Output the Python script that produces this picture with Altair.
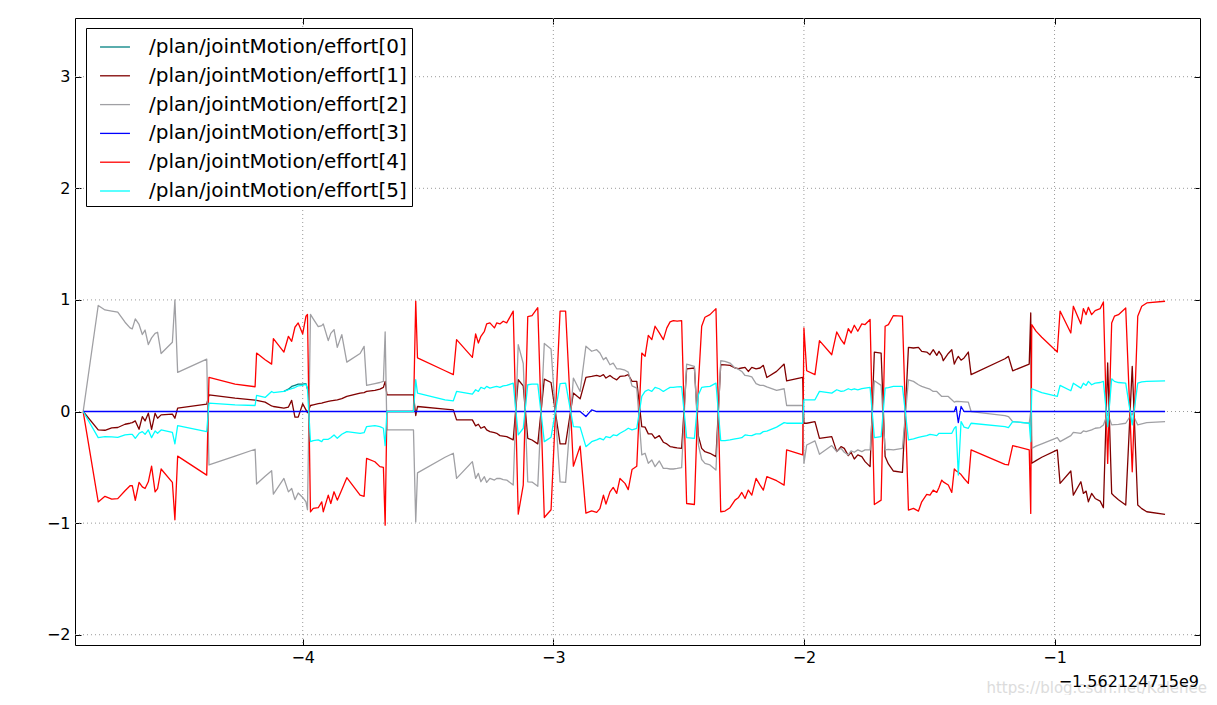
import altair as alt
import pandas as pd

names = [
    "/plan/jointMotion/effort[0]",
    "/plan/jointMotion/effort[1]",
    "/plan/jointMotion/effort[2]",
    "/plan/jointMotion/effort[3]",
    "/plan/jointMotion/effort[4]",
    "/plan/jointMotion/effort[5]",
]
colors = ["#008080", "#800000", "#a0a0a4", "#0000ff", "#ff0000", "#00ffff"]

# shared sample times (seconds, relative to offset -1.562124715e9)
t = [
    -4.876, -4.816, -4.789, -4.762, -4.738, -4.709, -4.689, -4.680, -4.668, -4.653, -4.640,
    -4.629, -4.616, -4.603, -4.589, -4.579, -4.565, -4.520, -4.510, -4.499, -4.383,
    -4.374, -4.270, -4.190, -4.184, -4.150, -4.124, -4.117, -4.075, -4.057, -4.044, -4.031,
    -4.018, -4.000, -3.987, -3.981,
    -3.969, -3.958, -3.938, -3.924, -3.918, -3.898, -3.888, -3.875, -3.862, -3.844, -3.824,
    -3.771, -3.755, -3.745, -3.712, -3.692, -3.678, -3.671,
    -3.664, -3.558, -3.549, -3.542,
    -3.432, -3.399, -3.386, -3.323, -3.310, -3.299, -3.289, -3.275, -3.266, -3.253, -3.235,
    -3.226, -3.213, -3.200, -3.186, -3.160,
    -3.140, -3.120, -3.102, -3.085, -3.062, -3.036, -3.009, -2.973, -2.951, -2.920, -2.893,
    -2.870, -2.847, -2.827, -2.814, -2.800, -2.790, -2.774, -2.761, -2.747, -2.734, -2.714,
    -2.701, -2.686, -2.667,
    -2.647, -2.634, -2.621, -2.607, -2.594, -2.577, -2.561, -2.547, -2.534, -2.521, -2.506, -2.488,
    -2.468, -2.437, -2.421, -2.408, -2.395, -2.375, -2.351,
    -2.332, -2.315, -2.295, -2.275, -2.262, -2.248, -2.235, -2.222, -2.208, -2.191, -2.175,
    -2.162, -2.148, -2.109, -2.079, -2.069, -2.005,
    -2.000, -1.989, -1.956, -1.938, -1.889, -1.869, -1.852, -1.839, -1.823, -1.812, -1.799,
    -1.785, -1.769, -1.756, -1.736,
    -1.719, -1.692, -1.676, -1.663, -1.643, -1.607,
    -1.583, -1.563, -1.543, -1.530, -1.510, -1.497, -1.484, -1.470, -1.461, -1.450, -1.444,
    -1.424, -1.410, -1.400, -1.393, -1.384, -1.373, -1.361, -1.344, -1.333,
    -1.198, -1.184, -1.167, -1.101, -1.095,
    -1.091, -1.074, -1.051, -0.989, -0.978, -0.935, -0.925, -0.895, -0.885, -0.874, -0.865,
    -0.852, -0.838, -0.818, -0.805,
    -0.788, -0.772, -0.761, -0.745, -0.716, -0.690, -0.668, -0.652, -0.632, -0.559,
]

effort1 = [
    0, -0.165, -0.168, -0.146, -0.143, -0.114, -0.105, -0.10, -0.084, -0.159, -0.045, -0.084,
    -0.015, -0.159, -0.015, -0.06, -0.03, -0.024, -0.06, 0.03, 0.066,
    0.15, 0.12, 0.102, 0.10, 0.084, 0.05, 0.045, 0.03, 0.04, 0.10, -0.05, -0.05, 0.07, 0.015, -0.01,
    0.054, 0.06, 0.07, 0.075, 0.08, 0.09, 0.095, 0.10, 0.105, 0.115, 0.135, 0.165, 0.17, 0.18,
    0.19, 0.20, 0.216, 0.27,
    0.15, 0.15, -0.036, 0.045,
    0.021, 0.015, -0.075, -0.075, -0.129, -0.114, -0.15, -0.135, -0.165, -0.18, -0.19, -0.195,
    -0.216, -0.22, -0.225, -0.254,
    0.285, 0.23, -0.24, -0.255, -0.29, 0.29, 0.26, -0.29, -0.29, 0.165, 0.114,
    0.305, 0.314, 0.323, 0.314, 0.33, 0.30, 0.323, 0.30, 0.284, 0.314, 0.32, 0.33, 0.27, 0.27,
    -0.135, -0.14, -0.20, -0.20, -0.24, -0.216, -0.275, -0.29, -0.314, -0.32, -0.325, -0.33,
    0.383, 0.39, -0.22, -0.33, -0.36, -0.374, -0.404,
    0.42, 0.418, 0.414, 0.39, 0.385, 0.39, 0.395, 0.359, 0.395, 0.383, 0.39, 0.414, 0.305, 0.36,
    0.425, 0.275, 0.305,
    -0.105, -0.105, -0.09, -0.24, -0.225, -0.359, -0.314, -0.33, -0.395, -0.365, -0.425, -0.389,
    -0.404, -0.449, -0.494,
    0.533, 0.524, -0.404, -0.47, -0.533, -0.545,
    0.575, 0.569, 0.575, 0.539, 0.533, 0.509, 0.554, 0.503, 0.539, 0.50, 0.455, 0.52, 0.554,
    0.425, 0.46, 0.494, 0.46, 0.48, 0.533, 0.33,
    0.473, 0.494, 0.365, 0.425, 0.883,
    -0.464, -0.44, -0.41, -0.344, -0.644, -0.533, -0.749, -0.629, -0.734, -0.713, -0.809, -0.734,
    -0.779, -0.803, -0.862,
    0.435, -0.734, -0.76, -0.79, -0.838, 0.405, -0.838, -0.87, -0.898, -0.922,
]

effort2 = [
    0, 0.95, 0.91, 0.90, 0.89, 0.80, 0.75, 0.74, 0.83, 0.78, 0.69, 0.73, 0.60, 0.66, 0.70, 0.71,
    0.52, 0.62, 1.0, 0.35, 0.47,
    -0.479, -0.40, -0.338, -0.65, -0.58, -0.53, -0.74, -0.60, -0.72, -0.69, -0.79, -0.73, -0.77,
    -0.81, -0.88,
    0.87, 0.83, 0.76, 0.77, 0.785, 0.635, 0.70, 0.734, 0.575, 0.689, 0.443, 0.52, 0.584, 0.234,
    0.25, 0.26, 0.27, 0.713,
    -0.165, -0.165, -0.99, -0.55,
    -0.41, -0.374, -0.599, -0.449, -0.599, -0.554, -0.629, -0.584, -0.635, -0.599, -0.614, -0.60,
    -0.60, -0.61, -0.614, -0.659,
    0.60, 0.43, -0.63, -0.632, -0.67, 0.61, 0.56, -0.63, -0.635, 0.30, 0.18,
    0.585, 0.54, 0.554, 0.524, 0.464, 0.485, 0.419, 0.434, 0.383, 0.383, 0.37, 0.353, 0.23, 0.21,
    -0.389, -0.374, -0.464, -0.434, -0.494, -0.443, -0.509, -0.51, -0.515, -0.515, -0.51, -0.503,
    0.425, 0.404, -0.30, -0.43, -0.464, -0.479, -0.524,
    0.455, 0.45, 0.434, 0.39, 0.38, 0.359, 0.323, 0.32, 0.31, 0.25, 0.235, 0.234, 0.22, 0.19,
    0.204, 0.054, 0.054,
    -0.464, -0.30, -0.263, -0.383, -0.305, -0.359, -0.33, -0.365, -0.389, -0.353, -0.365, -0.344,
    -0.359, -0.344, -0.344,
    0.275, 0.234, -0.344, -0.34, -0.344, -0.33,
    0.284, 0.27, 0.24, 0.225, 0.21, 0.20, 0.18, 0.18, 0.16, 0.135, 0.135, 0.135, 0.105, 0.084,
    0.09, 0.09, 0.088, 0.086, 0.084, 0.0,
    -0.036, -0.045, -0.09, -0.105, 0.0,
    -0.33, -0.31, -0.29, -0.234, -0.27, -0.216, -0.186, -0.195, -0.174, -0.18, -0.174, -0.165,
    -0.15, -0.144, -0.12,
    -0.015, -0.12, -0.118, -0.115, -0.105, -0.015, -0.12, -0.11, -0.10, -0.09,
]

effort4 = [
    0, -0.81, -0.76, -0.785, -0.78, -0.71, -0.665, -0.665, -0.795, -0.635, -0.675, -0.69, -0.63,
    -0.49, -0.72, -0.69, -0.515, -0.635, -0.97, -0.40, -0.57,
    0.305, 0.246, 0.222, 0.524, 0.464, 0.425, 0.653, 0.533, 0.674, 0.629, 0.755, 0.794, 0.695,
    0.854, 0.87,
    -0.90, -0.868, -0.862, -0.809, -0.898, -0.749, -0.824, -0.719, -0.794, -0.70, -0.593, -0.749,
    -0.76, -0.419, -0.45, -0.494, -0.50, -1.018,
    0, 0, 0.99, 0.48,
    0.365, 0.33, 0.644, 0.485, 0.695, 0.614, 0.674, 0.719, 0.785, 0.794, 0.749, 0.794, 0.785,
    0.809, 0.794, 0.90,
    -0.92, -0.66, 0.85, 0.86, 0.93, -0.95, -0.88, 0.90, 0.90, -0.49, -0.31,
    -0.91, -0.89, -0.904, -0.87, -0.75, -0.83, -0.72, -0.68, -0.734, -0.60, -0.644, -0.70, -0.52,
    -0.49,
    0.524, 0.494, 0.683, 0.644, 0.764, 0.704, 0.644, 0.749, 0.803, 0.815, 0.809, 0.815,
    -0.824, -0.833, 0.25, 0.764, 0.845, 0.868, 0.922,
    -0.898, -0.892, -0.862, -0.794, -0.773, -0.725, -0.779, -0.704, -0.749, -0.599, -0.659, -0.704,
    -0.584, -0.62, -0.659, -0.344, -0.389,
    0.749, 0.365, 0.33, 0.635, 0.509, 0.713, 0.644, 0.605, 0.743, 0.704, 0.773, 0.719, 0.785,
    0.779, 0.824,
    -0.833, -0.794, 0.764, 0.779, 0.86, 0.854,
    -0.883, -0.868, -0.892, -0.809, -0.743, -0.749, -0.704, -0.725, -0.68, -0.614, -0.63, -0.659,
    -0.725, -0.515, -0.53, -0.545, -0.565, -0.60, -0.644, -0.344,
    -0.473, -0.479, -0.305, -0.344, -0.913,
    0.779, 0.72, 0.665, 0.533, 0.90, 0.704, 0.943, 0.785, 0.922, 0.868, 0.934, 0.868, 0.904,
    0.922, 0.982,
    -0.465, 0.794, 0.854, 0.868, 0.928, -0.54, 0.854, 0.943, 0.973, 0.988,
]

effort5 = [
    0, -0.234, -0.225, -0.228, -0.231, -0.21, -0.204, -0.204, -0.24, -0.195, -0.18, -0.204,
    -0.165, -0.234, -0.174, -0.195, -0.165, -0.186, -0.29, -0.126, -0.18,
    0.075, 0.06, 0.054, 0.144, 0.126, 0.18, 0.17, 0.18, 0.195, 0.205, 0.215, 0.23, 0.234, 0.245, 0.20,
    -0.27, -0.26, -0.254, -0.27, -0.25, -0.249, -0.235, -0.21, -0.24, -0.204, -0.18, -0.195,
    -0.19, -0.135, -0.126, -0.135, -0.15, -0.305,
    0, 0, 0.285, 0.165,
    0.105, 0.096, 0.18, 0.156, 0.195, 0.18, 0.216, 0.204, 0.225, 0.21, 0.22, 0.225, 0.216, 0.23,
    0.234, 0.254,
    -0.21, -0.15, 0.24, 0.246, 0.246, -0.27, -0.23, 0.25, 0.255, -0.135, -0.14,
    -0.315, -0.27, -0.254, -0.24, -0.254, -0.225, -0.234, -0.21, -0.216, -0.195, -0.17, -0.15,
    -0.165, -0.15,
    0.135, 0.18, 0.195, 0.18, 0.216, 0.204, 0.18, 0.20, 0.216, 0.216, 0.22, 0.222,
    -0.234, -0.24, 0.15, 0.216, 0.22, 0.225, 0.254,
    -0.26, -0.26, -0.254, -0.245, -0.24, -0.234, -0.21, -0.214, -0.216, -0.20, -0.20, -0.18,
    -0.175, -0.14, -0.099, -0.105, -0.105,
    0.105, 0.105, 0.105, 0.18, 0.165, 0.195, 0.18, 0.186, 0.204, 0.195, 0.204, 0.195, 0.205,
    0.21, 0.216,
    -0.234, -0.225, 0.21, 0.215, 0.225, 0.225,
    -0.254, -0.245, -0.232, -0.225, -0.216, -0.204, -0.21, -0.216, -0.195, -0.195, -0.195, -0.195,
    -0.195, -0.15, -0.135, -0.569, -0.09, -0.14, -0.15, -0.105,
    -0.135, -0.144, -0.09, -0.105, -0.27,
    0.204, 0.19, 0.17, 0.135, 0.234, 0.186, 0.254, 0.21, 0.254, 0.234, 0.27, 0.24, 0.254, 0.26, 0.27,
    -0.135, 0.293, 0.27, 0.26, 0.255, -0.12, 0.255, 0.265, 0.27, 0.275,
]

# effort[0] is hidden under effort[5] except for a short stretch
effort0_t = [-4.075, -4.057, -4.044, -4.031, -4.018, -4.000, -3.987, -3.981]
effort0 = [0.18, 0.20, 0.225, 0.235, 0.245, 0.245, 0.25, 0.20]

# effort[3] stays at zero apart from two small blips
effort3_t = [-4.876, -2.893, -2.870, -2.847, -2.827, -1.400, -1.393, -1.384, -1.373, -1.361, -0.559]
effort3 = [0, 0, -0.045, 0.015, 0, 0, 0.045, -0.10, 0.045, 0, 0]

x_ticks = [-4, -3, -2, -1]
y_ticks = [-2, -1, 0, 1, 2, 3]
offset_label = "\u22121.562124715e9"
watermark = "https://blog.csdn.net/Kalenee"

for arr in (effort1, effort2, effort4, effort5):
    assert len(arr) == len(t), len(arr)

series = [
    (names[0], effort0_t, effort0),
    (names[1], t, effort1),
    (names[2], t, effort2),
    (names[3], effort3_t, effort3),
    (names[4], t, effort4),
    (names[5], t, effort5),
]
rows = []
for name, tt, vv in series:
    for a, b in zip(tt, vv):
        rows.append({"t": a, "v": b, "s": name})
df = pd.DataFrame(rows)

xs = alt.Scale(domain=[-4.9086, -0.4196], nice=False, zero=False)
ys = alt.Scale(domain=[-2.092, 3.526], nice=False, zero=False)
cs = alt.Scale(domain=names, range=colors)

FONT = "DejaVu Sans"

tick_common = dict(
    offset=-6, tickSize=6, tickColor="black", tickWidth=1, domain=False, grid=False, title=None
)
bottom_axis = alt.Axis(orient="bottom", values=x_ticks, format=".0f", labelFont=FONT,
                       labelFontSize=16, labelColor="black", labelPadding=4, **tick_common)
left_axis = alt.Axis(orient="left", values=y_ticks, format=".0f", labelFont=FONT,
                     labelFontSize=16, labelColor="black", labelPadding=5, **tick_common)
top_axis = alt.Axis(orient="top", values=x_ticks, labels=False, **tick_common)
right_axis = alt.Axis(orient="right", values=y_ticks, labels=False, **tick_common)

leg = alt.Legend(
    orient="none", legendX=11, legendY=10, title=None,
    symbolType="M-1.16,0H1.16", symbolSize=665, symbolStrokeWidth=1.3,
    symbolOffset=10, labelOffset=20, padding=5, rowPadding=4.8,
    labelFont=FONT, labelFontSize=20, labelColor="black", labelLimit=600,
    strokeColor="black", fillColor="white", cornerRadius=0,
)

grid_x = alt.Chart(pd.DataFrame({"gx": x_ticks})).mark_rule(
    color="#9a9a9a", strokeWidth=1, strokeDash=[1, 3]
).encode(x=alt.X("gx:Q", scale=xs, axis=top_axis))

grid_y = alt.Chart(pd.DataFrame({"gy": y_ticks})).mark_rule(
    color="#9a9a9a", strokeWidth=1, strokeDash=[1, 3]
).encode(y=alt.Y("gy:Q", scale=ys, axis=right_axis))

lines = []
for i, name in enumerate(names):
    lines.append(
        alt.Chart(df)
        .transform_filter(alt.FieldEqualPredicate(field="s", equal=name))
        .mark_line(strokeWidth=1.3, strokeJoin="round")
        .encode(
            x=alt.X("t:Q", scale=xs, axis=bottom_axis if i == 0 else None),
            y=alt.Y("v:Q", scale=ys, axis=left_axis if i == 0 else None),
            color=alt.Color("s:N", scale=cs, legend=leg),
        )
    )

offset_text = alt.Chart(pd.DataFrame({"label": [offset_label]})).mark_text(
    align="right", baseline="middle", font=FONT, fontSize=16, color="black"
).encode(x=alt.value(1124), y=alt.value(664), text="label:N")

wm_text = alt.Chart(pd.DataFrame({"label": [watermark]})).mark_text(
    align="right", baseline="middle", font=FONT, fontSize=15, color="#d4d4d4", opacity=0.8
).encode(x=alt.value(1132), y=alt.value(670), text="label:N")

chart = (
    alt.layer(grid_x, grid_y, *lines, wm_text, offset_text)
    .resolve_axis(x="independent", y="independent")
    .properties(
        width=1125,
        height=627,
        autosize=alt.AutoSizeParams(type="none"),
        padding={"left": 67, "top": 10, "right": 8, "bottom": 50},
    )
    .configure_view(stroke="black", strokeWidth=1)
)

chart.save("out.html", embed_options={"renderer": "svg", "actions": False})
